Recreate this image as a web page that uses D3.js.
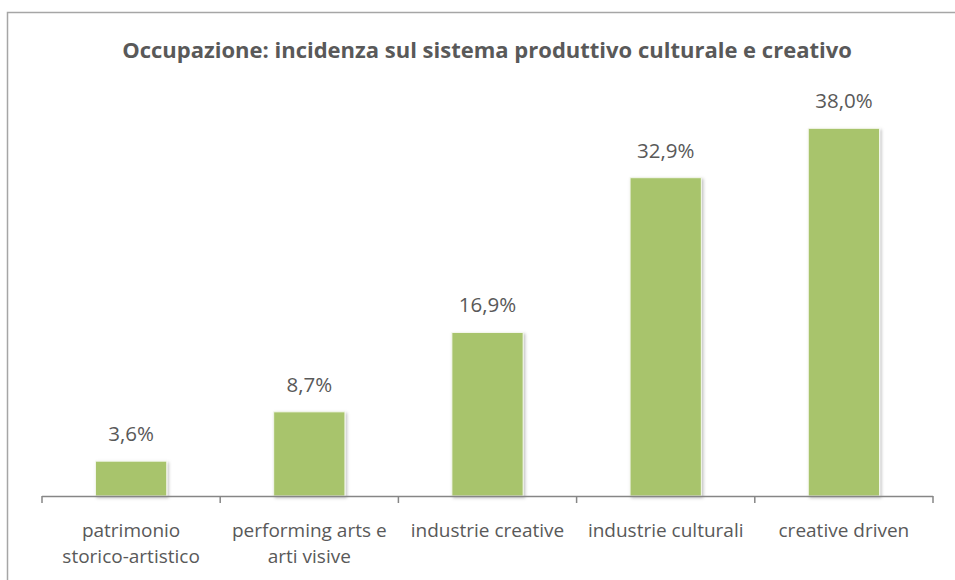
<!DOCTYPE html>
<html>
<head>
<meta charset="utf-8">
<script src="https://cdn.jsdelivr.net/npm/d3@7"></script>
<style>
  html, body { margin: 0; padding: 0; background: #fff; }
  svg { display: block; }
</style>
</head>
<body>
<script>
// Occupazione per comparto del sistema produttivo culturale e creativo
const categories = [
  ["patrimonio", "storico-artistico"],
  ["performing arts e", "arti visive"],
  ["industrie creative"],
  ["industrie culturali"],
  ["creative driven"]
];
const values = [3.6, 8.7, 16.9, 32.9, 38.0];
const titleText = "Occupazione: incidenza sul sistema produttivo culturale e creativo";

const W = 955, H = 580;
const font = "'Open Sans', Lato, sans-serif";
const textColor = "#595959";

const svg = d3.select("body").append("svg")
  .attr("width", W).attr("height", H);

// drop shadow for the bars
const defs = svg.append("defs");
const f = defs.append("filter").attr("id", "shadow")
  .attr("x", "-20%").attr("y", "-20%").attr("width", "140%").attr("height", "140%");
f.append("feDropShadow").attr("dx", 1.5).attr("dy", 1.5).attr("stdDeviation", 1.5)
  .attr("flood-color", "#000").attr("flood-opacity", 0.25);

// chart frame
svg.append("rect")
  .attr("x", 7.5).attr("y", 12.5).attr("width", 970).attr("height", 600)
  .attr("fill", "none").attr("stroke", "#a6a6a6").attr("stroke-width", 1.5);

// title
svg.append("text")
  .attr("x", 487).attr("y", 58)
  .attr("text-anchor", "middle")
  .attr("font-family", font).attr("font-weight", "bold")
  .attr("font-size", 22).attr("fill", textColor)
  .text(titleText);

const x0 = 42, x1 = 933, yBase = 496;
const keys = categories.map((d, i) => i);

const x = d3.scaleBand().domain(keys).range([x0, x1]).paddingInner(0.6).paddingOuter(0.3);
const y = d3.scaleLinear().domain([0, 40]).range([yBase, yBase - 387]);

// bars
svg.append("g").selectAll("rect")
  .data(values)
  .join("rect")
  .attr("x", (d, i) => x(i))
  .attr("y", d => y(d))
  .attr("width", x.bandwidth())
  .attr("height", d => y(0) - y(d))
  .attr("fill", "#a8c46c")
  .attr("stroke", "#f4f7ec")
  .attr("stroke-width", 1)
  .attr("filter", "url(#shadow)");

// value labels
svg.append("g").selectAll("text")
  .data(values)
  .join("text")
  .attr("x", (d, i) => x(i) + x.bandwidth() / 2)
  .attr("y", d => y(d) - 20)
  .attr("text-anchor", "middle")
  .attr("font-family", font).attr("font-size", 20.5)
  .attr("fill", textColor)
  .text(d => d.toFixed(1).replace(".", ",") + "%");

// category axis with ticks between categories
const step = (x1 - x0) / categories.length;
const axis = svg.append("g");
axis.append("line")
  .attr("x1", x0).attr("x2", x1)
  .attr("y1", yBase + 0.5).attr("y2", yBase + 0.5)
  .attr("stroke", "#868686").attr("stroke-width", 1.5);
axis.selectAll("line.tick")
  .data(d3.range(categories.length + 1))
  .join("line").attr("class", "tick")
  .attr("x1", i => x0 + i * step).attr("x2", i => x0 + i * step)
  .attr("y1", yBase).attr("y2", yBase + 7)
  .attr("stroke", "#868686").attr("stroke-width", 1.5);

// category labels, one text element per wrapped line
const lines = categories.flatMap((lines, i) => lines.map((t, j) => ({ t, i, j })));
axis.selectAll("text.cat")
  .data(lines)
  .join("text").attr("class", "cat")
  .attr("x", d => x(d.i) + x.bandwidth() / 2)
  .attr("y", d => 537 + d.j * 26)
  .attr("text-anchor", "middle")
  .attr("font-family", font).attr("font-size", 19)
  .attr("fill", textColor)
  .text(d => d.t);
</script>
</body>
</html>
